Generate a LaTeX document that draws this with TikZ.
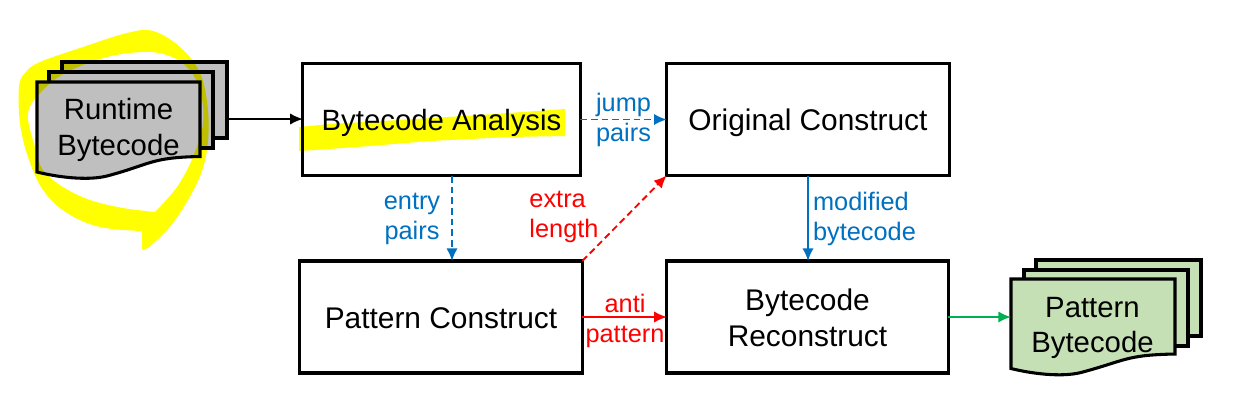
\documentclass[tikz,border=0pt]{standalone}
\usepackage{fontspec}
\setmainfont{Liberation Sans}
\usetikzlibrary{arrows.meta}
\definecolor{cblue}{HTML}{0070C0}
\definecolor{cred}{HTML}{FF0000}
\definecolor{cgreen}{HTML}{00B050}
\definecolor{docgray}{HTML}{BFBFBF}
\definecolor{docgreen}{HTML}{C5E0B4}
\definecolor{penyellow}{RGB}{255,255,0}
\newcommand{\lowertext}[2]{\raisebox{-#1}[\height][\depth]{#2}}
\tikzset{
  x=0.75pt,y=-0.75pt,
  proc/.style={draw=black,line width=2.4pt,fill=white,outer sep=0pt,inner sep=0pt,minimum width=209pt,minimum height=84pt,align=center,font=\fontsize{22.4}{26.5}\selectfont},
  page/.style={draw=black,line width=2.3pt,line join=miter},
  doctext/.style={align=center,font=\fontsize{22}{26.5}\selectfont,inner sep=0pt,text=black},
  lab/.style={align=center,font=\fontsize{19}{22.8}\selectfont,inner sep=0pt},
  conn/.style={line width=1.4pt,-{Latex[length=9.5pt,width=8.5pt]}},
  dconn/.style={conn,dash pattern=on 5pt off 3pt},
  hl/.style={fill=penyellow,draw=none},
}
\newcommand{\docpage}[6]{% fill, left, top, right, rightbottom, leftbottom
  \path[page,fill=#1] (#2,#3) -- (#4,#3) -- (#4,#5)
    .. controls ({#4-50},{#5+1}) and ({#2+115},{#6-8}) .. ({#2+70},{#6+4})
    .. controls ({#2+50},{#6+9}) and ({#2+20},{#6+5}) .. (#2,#6) -- cycle;
}
\begin{document}
\begin{tikzpicture}
\useasboundingbox (0,0) rectangle (1233,412);
% left document stack
\path[page,fill=docgray] (62,62) rectangle (227,138);
\path[page,fill=docgray] (49,72) rectangle (213,148);
\docpage{docgray}{37}{82}{200}{156.5}{172}
\node[doctext] (rt) at (118.5,130) {Runtime\\Bytecode};
% right document stack
\path[page,fill=docgreen] (1036,260) rectangle (1201,336);
\path[page,fill=docgreen] (1024,270) rectangle (1188,346);
\docpage{docgreen}{1011}{279}{1175}{354}{368.5}
\node[doctext] (pb) at (1092.5,328) {Pattern\\Bytecode};
% process boxes
\node[proc,minimum width=208pt,font=\fontsize{22}{26.5}\selectfont] (ana) at (441.5,119.5) {\lowertext{2.2pt}{Bytecode Analysis}};
\node[proc,minimum width=212pt] (orig) at (808,119.5) {\lowertext{2.2pt}{Original Construct}};
\node[proc,minimum width=212pt] (pat) at (441,317) {\lowertext{0.8pt}{Pattern Construct}};
\node[proc,minimum width=211pt] (rec) at (807.5,317) {\lowertext{0.6pt}{Bytecode}\\\lowertext{0.6pt}{Reconstruct}};
% free ends
\coordinate (rtout) at (227,119);
\coordinate (pbin) at (1011,317);
% connectors
\draw[conn,black] (rtout) -- (rtout -| ana.west);
\draw[dconn,cblue] (ana.east) -- (orig.west);
\draw[dconn,cblue] (452,176) -- (452,261);
\draw[conn,cblue] (orig.south) -- (rec.north -| orig.south);
\draw[dconn,cred] (pat.north east) -- (orig.south west);
\draw[conn,cred] (pat.east) -- (rec.west);
\draw[conn,cgreen] (rec.east) -- (pbin);
% labels
\node[lab,text=cblue] (l1) at (623.5,120) {jump\\pairs};
\node[lab,text=cblue] (l2) at (412,219) {entry\\pairs};
\node[lab,text=cred,align=left] (l3) at (564,217) {extra\\length};
\node[lab,text=cblue,align=left] (l4) at (864.5,219) {modified\\bytecode};
\node[lab,text=cred] (l5) at (625,321) {anti\\pattern};
% yellow pen strokes
\begin{scope}[blend mode=multiply]
\fill[hl,even odd rule]
  plot[smooth,tension=0.6] coordinates {(148,248) (173,223) (197,183) (207,150) (208,110) (200,73) (180,47) (153,31) (127,33) (83,47) (40,62) (25,73) (19,87) (20,123) (28,157) (43,190) (67,213) (100,227) (142,231)} -- (142,250) -- cycle
  plot[smooth,tension=0.6] coordinates {(155,212) (177,187) (193,157) (203,123) (200,90) (187,67) (167,55) (143,52) (107,57) (67,72) (43,90) (28,113) (35,147) (43,170) (63,187) (90,200) (123,208) (155,212)} -- cycle;
\fill[hl] (299,127) -- (330,124) -- (400,120) -- (480,115) -- (565,109) -- (565,136) -- (510,137) -- (430,141) -- (370,146) -- (315,150) -- (299,151) -- cycle;
\end{scope}
\end{tikzpicture}
\end{document}
